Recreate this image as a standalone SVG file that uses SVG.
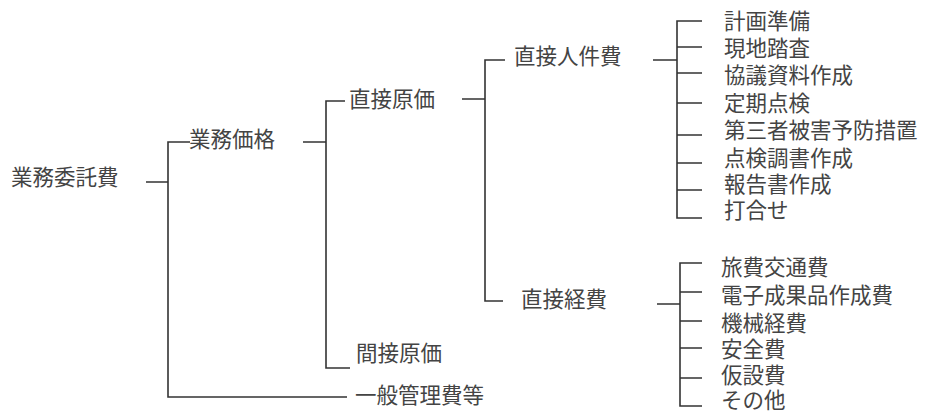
<svg xmlns="http://www.w3.org/2000/svg" width="952" height="412" viewBox="0 0 952 412">
<style>
text{font-family:"Noto Sans CJK JP","Noto Sans CJK SC",sans-serif;font-size:21.5px;fill:#444;dominant-baseline:central}
.c path{fill:none;stroke:#333;stroke-width:1.6}
</style>
<rect width="952" height="412" fill="#fff"/>
<g class="c" id="connectors">
<path d="M146,182H168M190,142H168V397H347"/>
<path d="M303,142H326M345,101H326V368H350"/>
<path d="M462,99H485M505,60H485V301H503"/>
<path d="M653,60H677M702,21H677V218H702M677,47H702M677,73H702M677,103H702M677,135H702M677,163H702M677,190H702"/>
<path d="M657,304H680M702,263H680V406H702M680,292H702M680,321H702M680,348H702M680,378H702"/>
</g>
<g id="n-root"><text x="11" y="175">業務委託費</text></g>
<g id="n-gyomukakaku"><text x="189" y="137">業務価格</text></g>
<g id="n-ippan"><text x="355" y="393">一般管理費等</text></g>
<g id="n-chokusetsugenka"><text x="349" y="97">直接原価</text></g>
<g id="n-kansetsugenka"><text x="356" y="351">間接原価</text></g>
<g id="n-jinkenhi"><text x="514" y="54">直接人件費</text></g>
<g id="n-keihi"><text x="521" y="297">直接経費</text></g>
<g id="n-a1"><text x="724" y="19">計画準備</text></g>
<g id="n-a2"><text x="724" y="46">現地踏査</text></g>
<g id="n-a3"><text x="724" y="73">協議資料作成</text></g>
<g id="n-a4"><text x="724" y="101">定期点検</text></g>
<g id="n-a5"><text x="724" y="128">第三者被害予防措置</text></g>
<g id="n-a6"><text x="724" y="156">点検調書作成</text></g>
<g id="n-a7"><text x="724" y="182">報告書作成</text></g>
<g id="n-a8"><text x="724" y="208">打合せ</text></g>
<g id="n-b1"><text x="721" y="265">旅費交通費</text></g>
<g id="n-b2"><text x="721" y="293">電子成果品作成費</text></g>
<g id="n-b3"><text x="721" y="321">機械経費</text></g>
<g id="n-b4"><text x="721" y="347">安全費</text></g>
<g id="n-b5"><text x="721" y="373">仮設費</text></g>
<g id="n-b6"><text x="721" y="398">その他</text></g>
</svg>
